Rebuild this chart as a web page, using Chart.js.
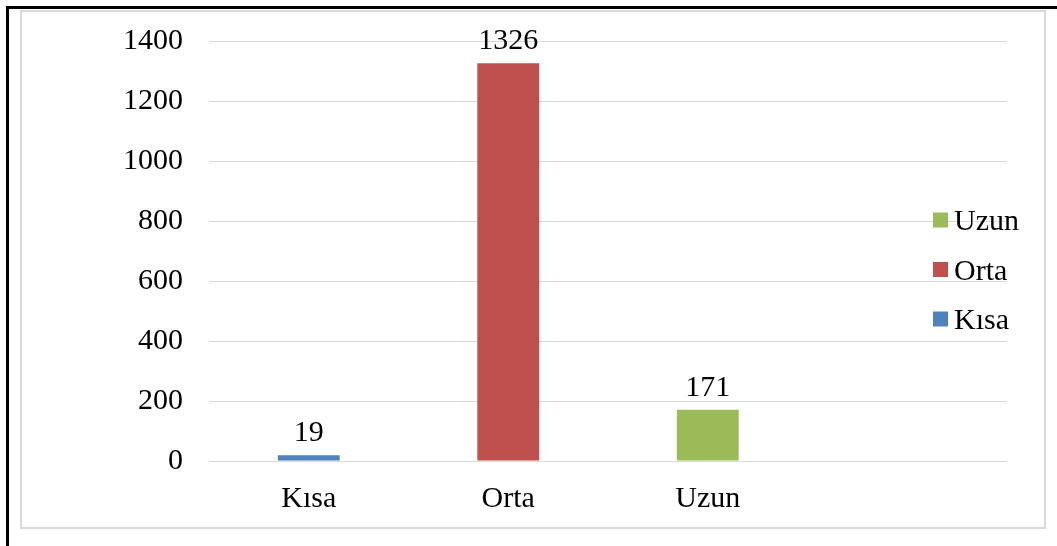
<!DOCTYPE html>
<html>
<head>
<meta charset="utf-8">
<script src="https://cdn.jsdelivr.net/npm/chart.js@4/dist/chart.umd.min.js"></script>
<style>
  html, body { margin: 0; padding: 0; background: #fff; }
  body { width: 1057px; height: 546px; position: relative; overflow: hidden; }
  #outer { position: absolute; left: 6px; top: 6px; width: 1051px; height: 540px;
           border-top: 3px solid #000; border-left: 3px solid #000; box-sizing: border-box; }
  #frame { position: absolute; left: 20px; top: 10px; width: 1026px; height: 519px;
           border: 2px solid #d9d9d9; box-sizing: border-box; }
  #wrap { position: absolute; left: 0; top: 0; width: 1057px; height: 546px; }
</style>
</head>
<body>
<div id="outer"></div>
<div id="frame"></div>
<div id="wrap"><canvas id="c"></canvas></div>
<script>
"use strict";
// Bar lengths by duration class (one series per class, last slot left empty)
const categories = ["Kısa", "Orta", "Uzun", ""];
const series = ["Kısa", "Orta", "Uzun"];
const values = [19, 1326, 171];
const colors = ["#4f81bd", "#c0504d", "#9bbb59"];
const yTicks = [0, 200, 400, 600, 800, 1000, 1200, 1400];

const FONT = "'Liberation Serif', 'Times New Roman', serif";
const FS = 30;

// draw the numbers above each bar
const valueLabels = {
  id: "valueLabels",
  afterDatasetsDraw(chart) {
    const ctx = chart.ctx;
    ctx.save();
    ctx.font = `${FS}px ${FONT}`;
    ctx.fillStyle = "#000";
    ctx.textAlign = "center";
    ctx.textBaseline = "alphabetic";
    chart.data.datasets.forEach((ds, i) => {
      chart.getDatasetMeta(i).data.forEach((bar, j) => {
        if (ds.data[j] == null) return;
        ctx.fillText(String(ds.data[j]), bar.x, bar.y - 14);
      });
    });
    ctx.restore();
  },
};

// legend sits inside the plot on the right, reversed order like the original
const sideLegend = {
  id: "sideLegend",
  afterDraw(chart) {
    const ctx = chart.ctx, a = chart.chartArea;
    const x = a.right - 74, y0 = a.top + 179, gap = 49.5;
    ctx.save();
    ctx.font = `${FS}px ${FONT}`;
    ctx.textAlign = "left";
    ctx.textBaseline = "alphabetic";
    const items = chart.data.datasets.map((d) => d).reverse();
    items.forEach((ds, k) => {
      const cy = y0 + k * gap;
      ctx.fillStyle = ds.backgroundColor;
      ctx.fillRect(x, cy - 7.5, 15, 15);
      ctx.fillStyle = "#000";
      ctx.fillText(ds.label, x + 21, cy + 10);
    });
    ctx.restore();
  },
};

new Chart(document.getElementById("c"), {
  type: "bar",
  data: {
    labels: categories,
    datasets: series.map((s, i) => ({
      label: s,
      data: categories.map((c, j) => (j === i ? values[i] : null)),
      backgroundColor: colors[i],
      barPercentage: 0.31,
      categoryPercentage: 1,
    })),
  },
  options: {
    responsive: true,
    maintainAspectRatio: false,
    animation: false,
    layout: { padding: { left: 0, right: 50, top: 41, bottom: 0 } },
    scales: {
      x: {
        stacked: true,
        grid: { display: false, drawTicks: false },
        border: { display: false },
        ticks: { color: "#000", font: { family: FONT, size: FS }, padding: 20, maxRotation: 0 },
        afterFit: (s) => { s.height = 85; },
      },
      y: {
        stacked: true,
        min: 0, max: 1400,
        afterBuildTicks: (s) => { s.ticks = yTicks.map((v) => ({ value: v })); },
        grid: { color: "#d9d9d9", lineWidth: 1, drawTicks: false },
        border: { display: false },
        ticks: { color: "#000", font: { family: FONT, size: FS, lineHeight: 1 }, padding: 26, callback: (v) => String(v) },
        afterFit: (s) => { s.width = 209; s.paddingTop = 0; s.paddingBottom = 0; },
      },
    },
    plugins: { legend: { display: false }, tooltip: { enabled: false } },
  },
  plugins: [valueLabels, sideLegend],
});
</script>
</body>
</html>
